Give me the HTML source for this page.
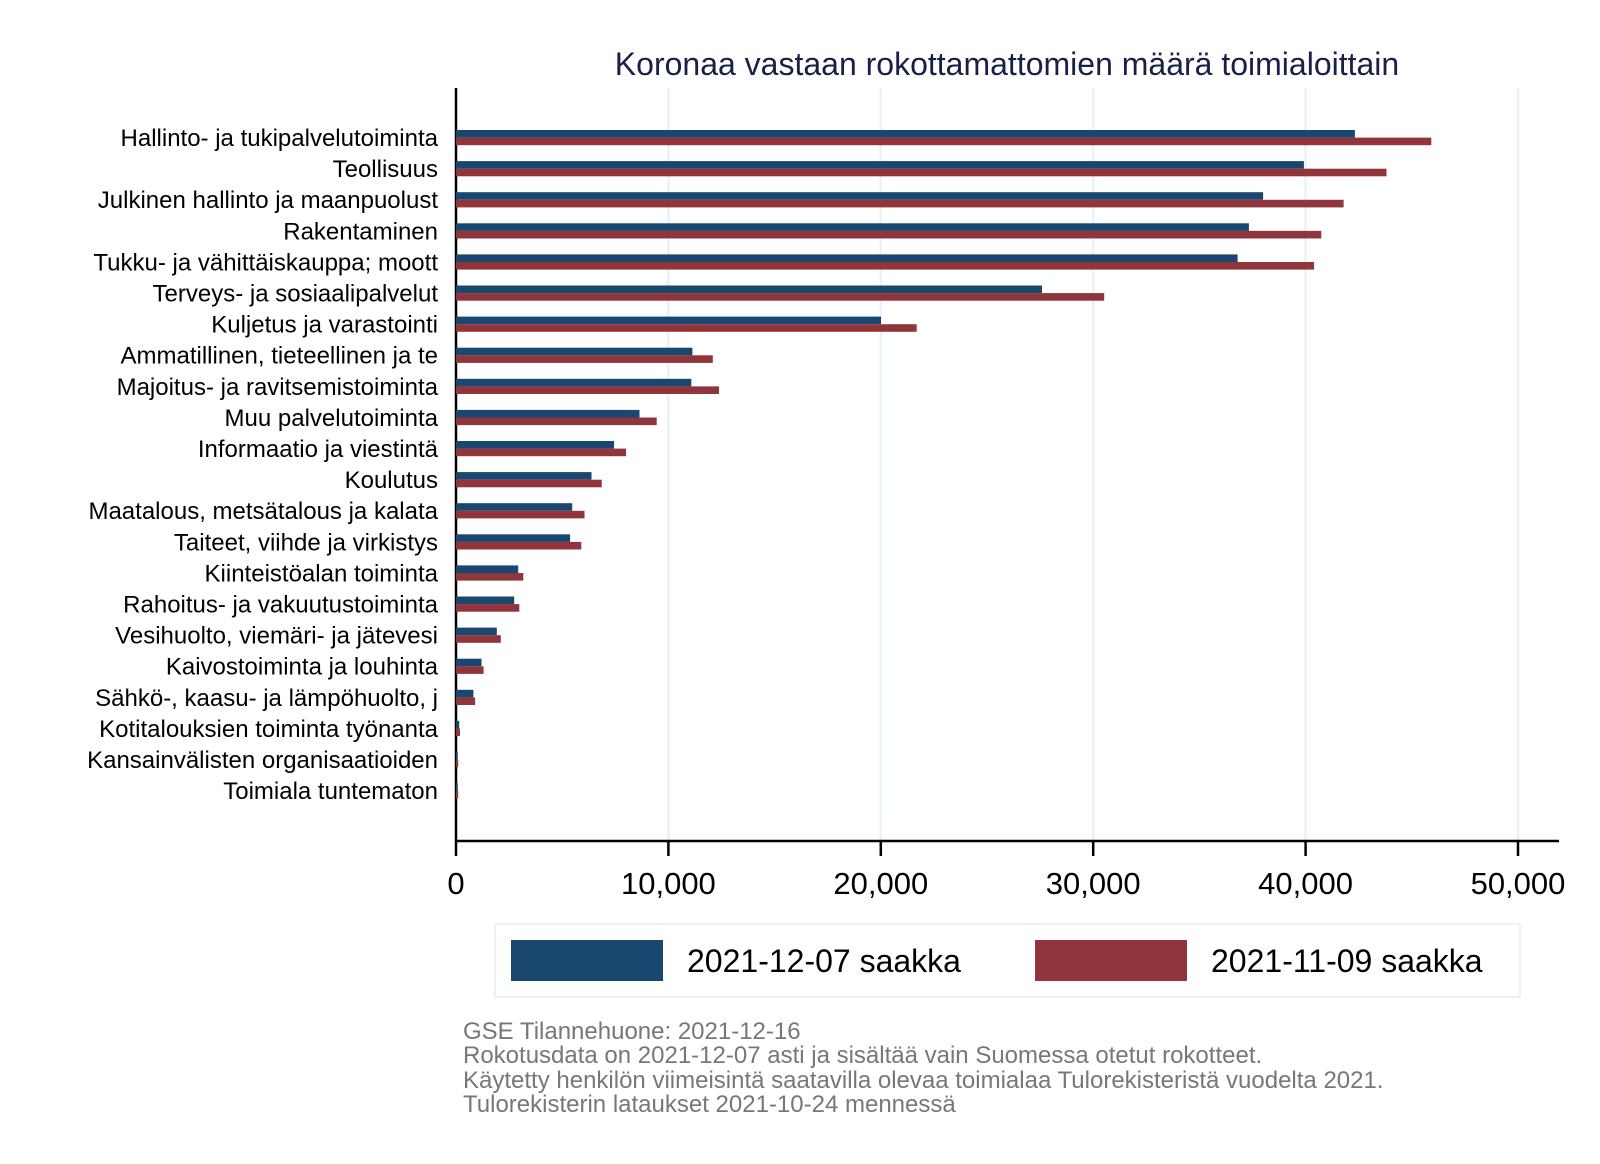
<!DOCTYPE html>
<html><head><meta charset="utf-8"><style>
html,body{margin:0;padding:0;background:#fff;}
svg{display:block;font-family:"Liberation Sans",Arial,sans-serif;}
</style></head><body>
<svg width="1600" height="1164" viewBox="0 0 1600 1164" xmlns="http://www.w3.org/2000/svg">
<rect width="1600" height="1164" fill="#fff"/>
<text x="1007" y="75" font-size="32" fill="#1a1f4a" text-anchor="middle">Koronaa vastaan rokottamattomien määrä toimialoittain</text>
<g stroke="#eaf2f3" stroke-width="2.5">
<line x1="668.4" y1="88" x2="668.4" y2="840"/>
<line x1="880.8" y1="88" x2="880.8" y2="840"/>
<line x1="1093.2" y1="88" x2="1093.2" y2="840"/>
<line x1="1305.6" y1="88" x2="1305.6" y2="840"/>
<line x1="1518" y1="88" x2="1518" y2="840"/>
</g>
<line x1="456" y1="88" x2="456" y2="856" stroke="#000" stroke-width="2.5"/>
<line x1="455" y1="841" x2="1559" y2="841" stroke="#000" stroke-width="2.5"/>
<g stroke="#000" stroke-width="2.5">
<line x1="668.4" y1="841" x2="668.4" y2="856"/>
<line x1="880.8" y1="841" x2="880.8" y2="856"/>
<line x1="1093.2" y1="841" x2="1093.2" y2="856"/>
<line x1="1305.6" y1="841" x2="1305.6" y2="856"/>
<line x1="1518" y1="841" x2="1518" y2="856"/>
</g>
<g font-size="31" text-anchor="middle" fill="#000">
<text x="456" y="894">0</text>
<text x="668.4" y="894">10,000</text>
<text x="880.8" y="894">20,000</text>
<text x="1093.2" y="894">30,000</text>
<text x="1305.6" y="894">40,000</text>
<text x="1518" y="894">50,000</text>
</g>
<rect x="495" y="924" width="1025" height="73" fill="#fff" stroke="#eaf2f3" stroke-width="2"/>
<rect x="511" y="940" width="152" height="41" fill="#1a476f"/>
<text x="687" y="972" font-size="32">2021-12-07 saakka</text>
<rect x="1035" y="940" width="152" height="41" fill="#90353b"/>
<text x="1211" y="972" font-size="32">2021-11-09 saakka</text>
<g font-size="24" fill="#777">
<text x="463" y="1039">GSE Tilannehuone: 2021-12-16</text>
<text x="463" y="1063">Rokotusdata on 2021-12-07 asti ja sisältää vain Suomessa otetut rokotteet.</text>
<text x="463" y="1088">Käytetty henkilön viimeisintä saatavilla olevaa toimialaa Tulorekisteristä vuodelta 2021.</text>
<text x="463" y="1112">Tulorekisterin lataukset 2021-10-24 mennessä</text>
</g>
<g font-size="24" text-anchor="end" fill="#000">
<text x="438" y="146">Hallinto- ja tukipalvelutoiminta</text>
<text x="438" y="177.1">Teollisuus</text>
<text x="438" y="208.2">Julkinen hallinto ja maanpuolust</text>
<text x="438" y="239.3">Rakentaminen</text>
<text x="438" y="270.4">Tukku- ja vähittäiskauppa; moott</text>
<text x="438" y="301.5">Terveys- ja sosiaalipalvelut</text>
<text x="438" y="332.6">Kuljetus ja varastointi</text>
<text x="438" y="363.7">Ammatillinen, tieteellinen ja te</text>
<text x="438" y="394.8">Majoitus- ja ravitsemistoiminta</text>
<text x="438" y="425.9">Muu palvelutoiminta</text>
<text x="438" y="457">Informaatio ja viestintä</text>
<text x="438" y="488.1">Koulutus</text>
<text x="438" y="519.2">Maatalous, metsätalous ja kalata</text>
<text x="438" y="550.3">Taiteet, viihde ja virkistys</text>
<text x="438" y="581.4">Kiinteistöalan toiminta</text>
<text x="438" y="612.5">Rahoitus- ja vakuutustoiminta</text>
<text x="438" y="643.6">Vesihuolto, viemäri- ja jätevesi</text>
<text x="438" y="674.7">Kaivostoiminta ja louhinta</text>
<text x="438" y="705.8">Sähkö-, kaasu- ja lämpöhuolto, j</text>
<text x="438" y="736.9">Kotitalouksien toiminta työnanta</text>
<text x="438" y="768">Kansainvälisten organisaatioiden</text>
<text x="438" y="799.1">Toimiala tuntematon</text>
</g>
<g>
<rect x="456" y="130" width="898.9" height="7.6" fill="#1a476f"/><rect x="456" y="137.6" width="975.3" height="7.6" fill="#90353b"/>
<rect x="456" y="161.1" width="847.9" height="7.6" fill="#1a476f"/><rect x="456" y="168.7" width="930.5" height="7.6" fill="#90353b"/>
<rect x="456" y="192.2" width="807.1" height="7.6" fill="#1a476f"/><rect x="456" y="199.8" width="887.6" height="7.6" fill="#90353b"/>
<rect x="456" y="223.3" width="792.9" height="7.6" fill="#1a476f"/><rect x="456" y="230.9" width="865.3" height="7.6" fill="#90353b"/>
<rect x="456" y="254.4" width="781.6" height="7.6" fill="#1a476f"/><rect x="456" y="262" width="858.1" height="7.6" fill="#90353b"/>
<rect x="456" y="285.5" width="586" height="7.6" fill="#1a476f"/><rect x="456" y="293.1" width="648.2" height="7.6" fill="#90353b"/>
<rect x="456" y="316.6" width="425" height="7.6" fill="#1a476f"/><rect x="456" y="324.2" width="460.7" height="7.6" fill="#90353b"/>
<rect x="456" y="347.7" width="236.4" height="7.6" fill="#1a476f"/><rect x="456" y="355.3" width="256.8" height="7.6" fill="#90353b"/>
<rect x="456" y="378.8" width="235.3" height="7.6" fill="#1a476f"/><rect x="456" y="386.4" width="263" height="7.6" fill="#90353b"/>
<rect x="456" y="409.9" width="183.5" height="7.6" fill="#1a476f"/><rect x="456" y="417.5" width="200.7" height="7.6" fill="#90353b"/>
<rect x="456" y="441" width="158" height="7.6" fill="#1a476f"/><rect x="456" y="448.6" width="170.1" height="7.6" fill="#90353b"/>
<rect x="456" y="472.1" width="135.5" height="7.6" fill="#1a476f"/><rect x="456" y="479.7" width="145.7" height="7.6" fill="#90353b"/>
<rect x="456" y="503.2" width="116.2" height="7.6" fill="#1a476f"/><rect x="456" y="510.8" width="128.5" height="7.6" fill="#90353b"/>
<rect x="456" y="534.3" width="114.1" height="7.6" fill="#1a476f"/><rect x="456" y="541.9" width="125.3" height="7.6" fill="#90353b"/>
<rect x="456" y="565.4" width="62.2" height="7.6" fill="#1a476f"/><rect x="456" y="573" width="67.3" height="7.6" fill="#90353b"/>
<rect x="456" y="596.5" width="58.2" height="7.6" fill="#1a476f"/><rect x="456" y="604.1" width="63.3" height="7.6" fill="#90353b"/>
<rect x="456" y="627.6" width="40.8" height="7.6" fill="#1a476f"/><rect x="456" y="635.2" width="44.8" height="7.6" fill="#90353b"/>
<rect x="456" y="658.7" width="25.5" height="7.6" fill="#1a476f"/><rect x="456" y="666.3" width="27.6" height="7.6" fill="#90353b"/>
<rect x="456" y="689.8" width="17.4" height="7.6" fill="#1a476f"/><rect x="456" y="697.4" width="19.1" height="7.6" fill="#90353b"/>
<rect x="456" y="720.9" width="3.2" height="7.6" fill="#1a476f"/><rect x="456" y="728.5" width="4" height="7.6" fill="#90353b"/>
<rect x="456" y="752" width="1.8" height="7.6" fill="#1a476f"/><rect x="456" y="759.6" width="2.2" height="7.6" fill="#90353b"/>
<rect x="456" y="783.1" width="1.8" height="7.6" fill="#1a476f"/><rect x="456" y="790.7" width="2.2" height="7.6" fill="#90353b"/>
</g>
</svg>
</body></html>
